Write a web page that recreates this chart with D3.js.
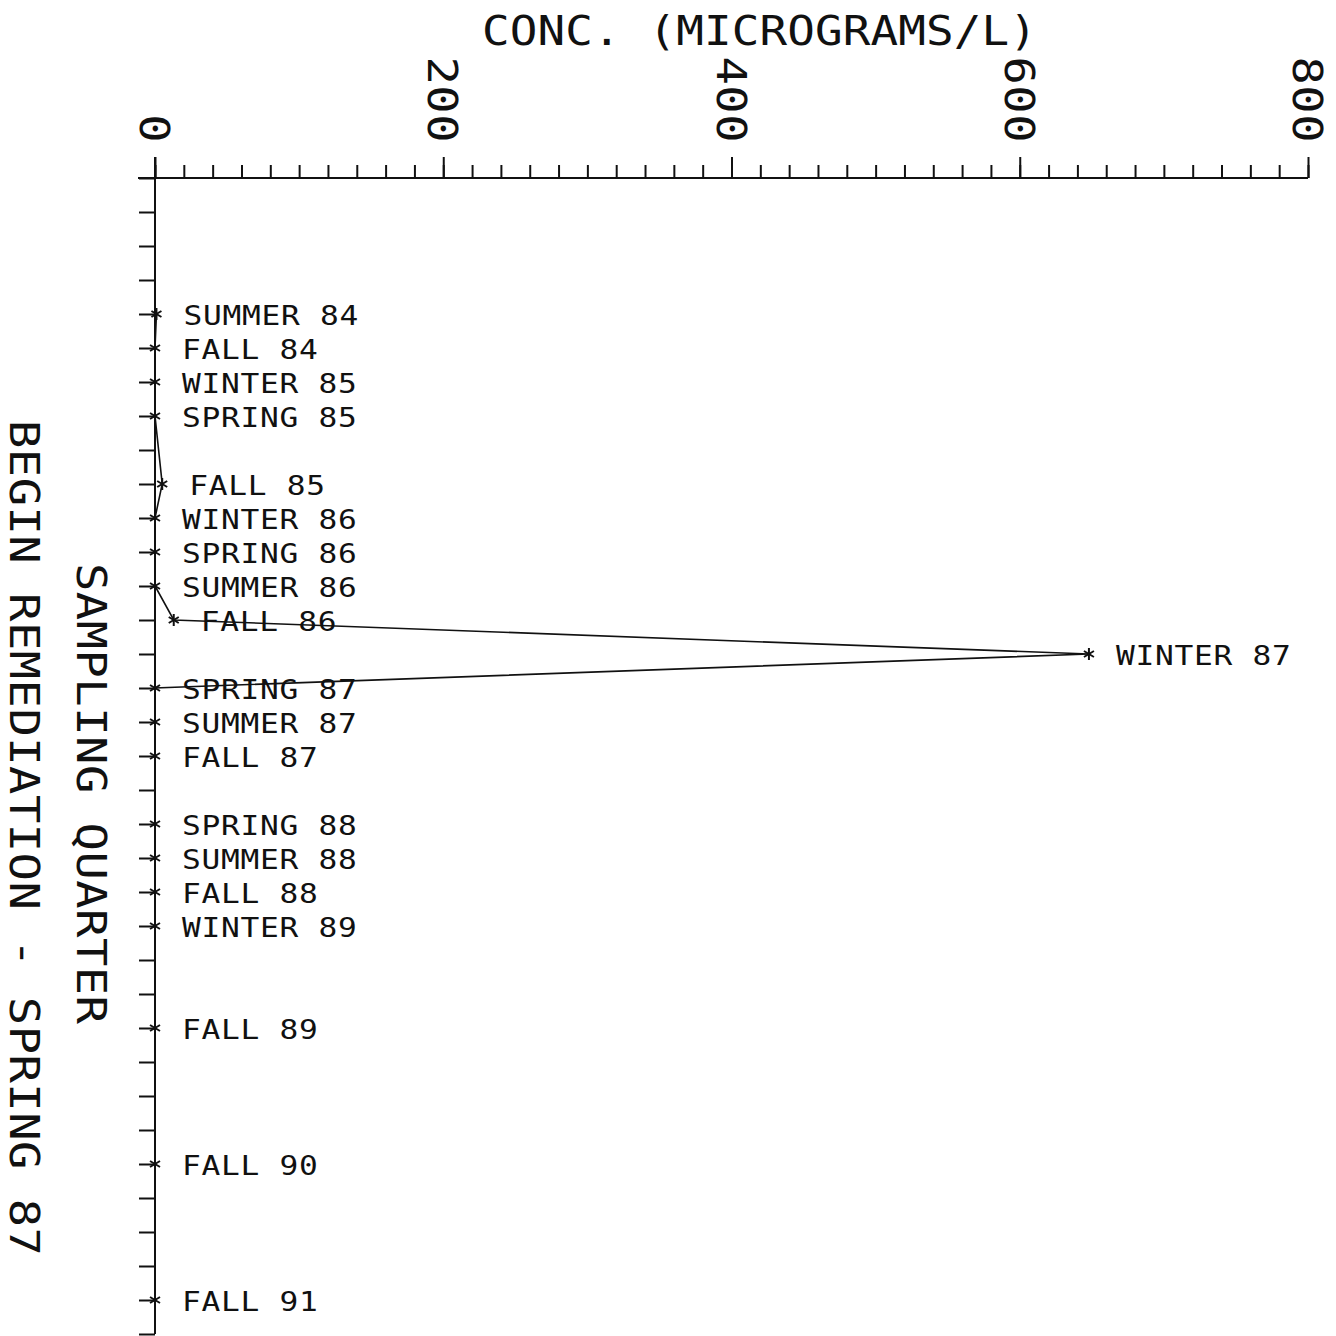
<!DOCTYPE html>
<html>
<head>
<meta charset="utf-8">
<script src="https://cdn.jsdelivr.net/npm/d3@7"></script>
<style>
  html, body { margin: 0; padding: 0; background: #fff; }
  svg { display: block; }
  text { font-family: "DejaVu Sans Mono", "Liberation Mono", monospace; fill: #111; }
</style>
</head>
<body>
<script>
// Quarterly axis, from the top of the plot to the bottom
const axisQuarters = [
  "SUMMER 83", "FALL 83", "WINTER 84", "SPRING 84",
  "SUMMER 84", "FALL 84", "WINTER 85", "SPRING 85",
  "SUMMER 85", "FALL 85", "WINTER 86", "SPRING 86",
  "SUMMER 86", "FALL 86", "WINTER 87", "SPRING 87",
  "SUMMER 87", "FALL 87", "WINTER 88", "SPRING 88",
  "SUMMER 88", "FALL 88", "WINTER 89", "SPRING 89",
  "SUMMER 89", "FALL 89", "WINTER 90", "SPRING 90",
  "SUMMER 90", "FALL 90", "WINTER 91", "SPRING 91",
  "SUMMER 91", "FALL 91", "WINTER 92"
];

// Sampled quarters and measured concentrations (micrograms/L)
const sampledQuarters = [
  "SUMMER 84", "FALL 84", "WINTER 85", "SPRING 85", "FALL 85",
  "WINTER 86", "SPRING 86", "SUMMER 86", "FALL 86", "WINTER 87",
  "SPRING 87", "SUMMER 87", "FALL 87", "SPRING 88", "SUMMER 88",
  "FALL 88", "WINTER 89", "FALL 89", "FALL 90", "FALL 91"
];
const concentrations = [
  1, 0, 0, 0, 5,
  0, 0, 0, 13, 648,
  0, 0, 0, 0, 0,
  0, 0, 0, 0, 0
];

// Concentration axis ticks
const majorTicks = [0, 200, 400, 600, 800];
const minorTicks = d3.range(0, 801, 20);

const xTitle = "CONC. (MICROGRAMS/L)";
const yTitle = "SAMPLING QUARTER";
const noteTitle = "BEGIN REMEDIATION - SPRING 87";

const W = 1336, H = 1336;
const svg = d3.select("body").append("svg")
  .attr("width", W).attr("height", H)
  .attr("viewBox", `0 0 ${W} ${H}`);

const x = d3.scaleLinear().domain([0, 800]).range([155, 1308]);
const y = d3.scalePoint().domain(axisQuarters).range([178, 1334]);

const ink = "#111";
// wide plotter-style lettering: monospace glyphs stretched along the writing direction
const bigSize = 41, bigStretch = 1.15, bigSpacing = 0.4;
const titleStretch = 1.12, titleSpacing = 0.1;
const smallSize = 26, smallStretch = 1.2, smallSpacing = 0.6;

// Concentration axis along the top
const xAxisMinor = d3.axisTop(x).tickValues(minorTicks).tickSize(13).tickFormat("");
const gx = svg.append("g").attr("transform", `translate(0,${y.range()[0]})`).call(xAxisMinor);
gx.select(".domain").remove();
gx.selectAll(".tick line").attr("stroke", ink).attr("stroke-width", 2);

const xAxisMajor = d3.axisTop(x).tickValues(majorTicks).tickSize(21).tickFormat("");
const gxM = svg.append("g").attr("transform", `translate(0,${y.range()[0]})`).call(xAxisMajor);
gxM.select(".domain").remove();
gxM.selectAll(".tick line").attr("stroke", ink).attr("stroke-width", 2);

// axis baseline
svg.append("line")
  .attr("x1", 138).attr("x2", x(800))
  .attr("y1", y.range()[0]).attr("y2", y.range()[0])
  .attr("stroke", ink).attr("stroke-width", 2);

// rotated tick labels, reading downward
svg.append("g").selectAll("text")
  .data(majorTicks)
  .join("text")
  .attr("transform", d => `translate(${x(d) - 15},143) rotate(90) scale(${bigStretch},1)`)
  .attr("text-anchor", "end")
  .attr("font-size", bigSize)
  .attr("letter-spacing", bigSpacing)
  .text(d => String(d));

// axis title
svg.append("text")
  .attr("transform", `translate(482,45) scale(${titleStretch},1)`)
  .attr("font-size", bigSize)
  .attr("letter-spacing", titleSpacing)
  .text(xTitle);

// Quarter axis on the left
const yAxis = d3.axisLeft(y).tickSize(16).tickFormat("");
const gy = svg.append("g").attr("transform", `translate(${x(0)},0)`).call(yAxis);
gy.select(".domain").remove();
gy.selectAll(".tick line").attr("stroke", ink).attr("stroke-width", 2);

svg.append("line")
  .attr("x1", x(0)).attr("x2", x(0))
  .attr("y1", 157).attr("y2", y.range()[1])
  .attr("stroke", ink).attr("stroke-width", 2);

// rotated axis titles
svg.append("text")
  .attr("transform", `translate(77,563) rotate(90) scale(${bigStretch},1)`)
  .attr("font-size", bigSize)
  .attr("letter-spacing", bigSpacing)
  .text(yTitle);

svg.append("text")
  .attr("transform", `translate(10,420) rotate(90) scale(${bigStretch},1)`)
  .attr("font-size", bigSize)
  .attr("letter-spacing", bigSpacing)
  .text(noteTitle);

// Concentration series
const points = sampledQuarters.map((q, i) => ({ q, v: concentrations[i] }));

const line = d3.line().x(d => x(d.v)).y(d => y(d.q));
svg.append("path")
  .datum(points)
  .attr("d", line)
  .attr("fill", "none")
  .attr("stroke", ink)
  .attr("stroke-width", 1.6);

// asterisk markers
const mk = svg.append("g").selectAll("g")
  .data(points)
  .join("g")
  .attr("transform", d => `translate(${x(d.v)},${y(d.q)})`)
  .attr("stroke", ink)
  .attr("stroke-width", 2);
mk.append("line").attr("x1", 0).attr("x2", 0).attr("y1", -6).attr("y2", 6);
mk.append("line").attr("x1", -5).attr("x2", 5).attr("y1", -3).attr("y2", 3);
mk.append("line").attr("x1", -5).attr("x2", 5).attr("y1", 3).attr("y2", -3);

// point labels
svg.append("g").selectAll("text")
  .data(points)
  .join("text")
  .attr("transform", d => `translate(${x(d.v) + 27},${y(d.q) + 11}) scale(${smallStretch},1)`)
  .attr("font-size", smallSize)
  .attr("letter-spacing", smallSpacing)
  .text(d => d.q);
</script>
</body>
</html>
